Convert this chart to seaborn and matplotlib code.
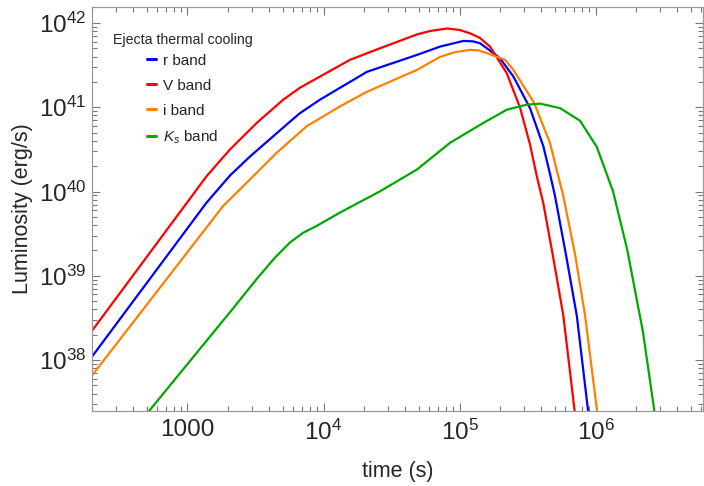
import numpy as np
import pandas as pd
import matplotlib
matplotlib.use("Agg")
import matplotlib.pyplot as plt
import seaborn as sns
from matplotlib.ticker import FixedLocator, FixedFormatter, LogLocator, NullFormatter
from matplotlib.lines import Line2D

# ---------------- data (log10 of time [s] and luminosity [erg/s]) -------------
bands = ["r band", "V band", "i band", "$K_s$ band"]
band_colors = ["#0000ff", "#ff0000", "#ff8000", "#00a800"]

r_logt = [2.298, 3.141, 3.3125, 3.46, 3.754, 3.827, 3.974, 4.32, 4.688, 4.857, 5.028, 5.10, 5.151,
          5.249, 5.298, 5.396, 5.518, 5.616, 5.665, 5.702, 5.783, 5.862, 5.945]
r_logL = [38.04, 39.87, 40.19, 40.416, 40.83, 40.93, 41.09, 41.421, 41.622, 41.72, 41.787, 41.782, 41.76,
          41.642, 41.58, 41.365, 40.99, 40.538, 40.21, 39.947, 39.246, 38.528, 37.40]

V_logt = [2.298, 3.141, 3.3125, 3.509, 3.704, 3.827, 4.195, 4.415, 4.688, 4.783, 4.908, 5.0, 5.077,
          5.15, 5.224, 5.347, 5.445, 5.518, 5.568, 5.616, 5.684, 5.763, 5.846]
V_logL = [38.347, 40.183, 40.499, 40.814, 41.09, 41.232, 41.563, 41.70, 41.865, 41.905, 41.935, 41.918, 41.878,
          41.823, 41.72, 41.405, 40.995, 40.56, 40.183, 39.86, 39.26, 38.53, 37.40]

i_logt = [2.298, 3.263, 3.46, 3.656, 3.876, 4.121, 4.32, 4.688, 4.857, 4.97, 5.077, 5.14, 5.202, 5.335,
          5.396, 5.548, 5.665, 5.726, 5.763, 5.849, 5.923, 6.011]
i_logL = [37.816, 39.83, 40.144, 40.46, 40.774, 41.01, 41.184, 41.444, 41.598, 41.655, 41.681, 41.675, 41.642, 41.563,
          41.444, 41.054, 40.578, 40.183, 39.947, 39.258, 38.528, 37.40]

Ks_logt = [2.72, 3.3125, 3.509, 3.64, 3.754, 3.85, 3.95, 4.121, 4.415, 4.688, 4.93, 5.175, 5.349,
           5.494, 5.592, 5.739, 5.886, 6.009, 6.129, 6.232, 6.349, 6.432]
Ks_logL = [37.40, 38.568, 38.962, 39.21, 39.396, 39.51, 39.592, 39.75, 40.002, 40.262, 40.578, 40.814, 40.972,
           41.031, 41.043, 40.99, 40.84, 40.53, 40.0, 39.317, 38.33, 37.40]

x_ticks = [1e3, 1e4, 1e5, 1e6]
x_ticklabels = ["1000", "$10^{4}$", "$10^{5}$", "$10^{6}$"]
y_ticks = [1e38, 1e39, 1e40, 1e41, 1e42]
y_ticklabels = ["$10^{38}$", "$10^{39}$", "$10^{40}$", "$10^{41}$", "$10^{42}$"]
x_limits = (10 ** 2.298, 10 ** 6.79)
y_limits = (10 ** 37.395, 10 ** 42.19)

legend_title = "Ejecta thermal cooling"
x_label = "time (s)"
y_label = "Luminosity (erg/s)"

# ---------------- build table ----------------
series = {
    "r band": (r_logt, r_logL),
    "V band": (V_logt, V_logL),
    "i band": (i_logt, i_logL),
    "$K_s$ band": (Ks_logt, Ks_logL),
}
rows = []
for name, (lt, lL) in series.items():
    for a, b in zip(lt, lL):
        rows.append({"band": name, "t": 10 ** a, "L": 10 ** b})
df = pd.DataFrame(rows)

# ---------------- style ----------------
sns.set_theme(style="ticks")
plt.rcParams["font.family"] = ["Liberation Sans", "DejaVu Sans"]
plt.rcParams["mathtext.fontset"] = "custom"
plt.rcParams["mathtext.rm"] = "Liberation Sans"
plt.rcParams["mathtext.it"] = "Liberation Sans:italic"
plt.rcParams["mathtext.bf"] = "Liberation Sans:bold"

fig = plt.figure(figsize=(7.04, 4.86), dpi=100)
ax = fig.add_axes([92 / 704, 75 / 486, 611 / 704, 404 / 486])

palette = dict(zip(bands, band_colors))
sns.lineplot(data=df, x="t", y="L", hue="band", hue_order=bands, palette=palette,
             estimator=None, sort=False, linewidth=1.6, legend=False, ax=ax)
for ln in ax.get_lines():
    ln.set_solid_joinstyle("round")

ax.set_xscale("log")
ax.set_yscale("log")
ax.set_xlim(*x_limits)
ax.set_ylim(*y_limits)

ax.xaxis.set_major_locator(FixedLocator(x_ticks))
ax.xaxis.set_major_formatter(FixedFormatter(x_ticklabels))
ax.xaxis.set_minor_locator(LogLocator(base=10, subs=np.arange(2, 10), numticks=20))
ax.xaxis.set_minor_formatter(NullFormatter())
ax.yaxis.set_major_locator(FixedLocator(y_ticks))
ax.yaxis.set_major_formatter(FixedFormatter(y_ticklabels))
ax.yaxis.set_minor_locator(LogLocator(base=10, subs=np.arange(2, 10), numticks=20))
ax.yaxis.set_minor_formatter(NullFormatter())

frame_col = "#9a9a9a"
for sp in ax.spines.values():
    sp.set_color(frame_col)
    sp.set_linewidth(0.9)
ax.tick_params(which="both", direction="in", top=True, right=True, color="#777777", width=0.8)
ax.tick_params(which="major", length=6, labelsize=17.5, pad=4)
ax.tick_params(which="minor", length=3.5)
ax.tick_params(axis="x", which="major", pad=6)

ax.set_xlabel(x_label, fontsize=15.5, labelpad=12)
ax.set_ylabel(y_label, fontsize=15.5, labelpad=4)

handles = [Line2D([0], [0], color=c, lw=2.2) for c in band_colors]
leg = ax.legend(handles, bands, title=legend_title, frameon=False, loc="upper left",
                bbox_to_anchor=(102 / 704, 1 - 22 / 486), bbox_transform=fig.transFigure,
                fontsize=11, title_fontsize=10.2, handlelength=0.6, handletextpad=0.45,
                labelspacing=0.72, borderpad=0.2)
leg._legend_box.sep = 5.0

fig.savefig("out.png", dpi=100)
